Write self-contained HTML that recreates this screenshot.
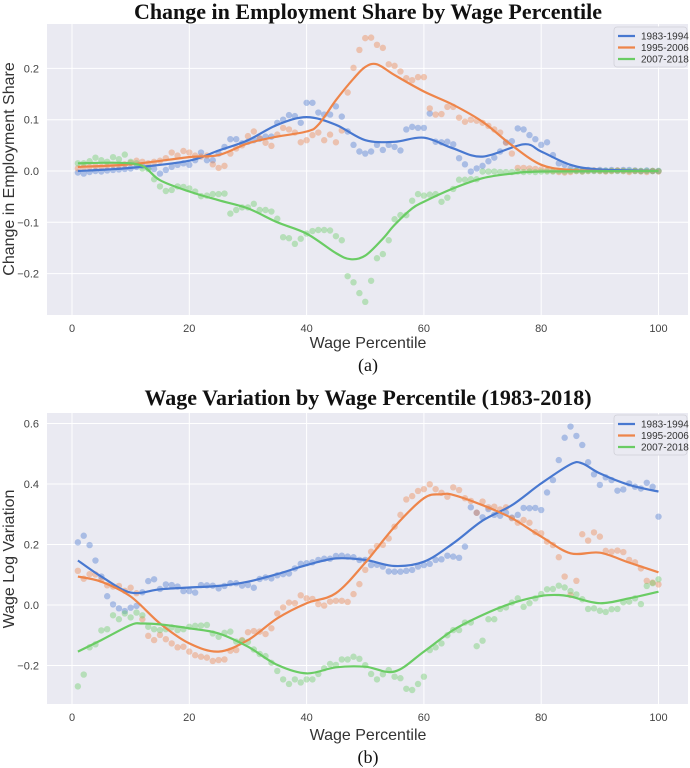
<!DOCTYPE html>
<html><head><meta charset="utf-8">
<style>
html,body{margin:0;padding:0;background:#fff;}
svg{display:block;}
.tick{font-family:"Liberation Sans",sans-serif;font-size:11px;fill:#444;}
.axl{font-family:"Liberation Sans",sans-serif;font-size:16px;fill:#333;}
.ttl{font-family:"Liberation Serif",serif;font-size:22px;font-weight:bold;fill:#111;}
.cap{font-family:"Liberation Serif",serif;font-size:18px;fill:#111;}
.leg{font-family:"Liberation Sans",sans-serif;font-size:10px;fill:#333;}
</style></head>
<body>
<svg id="fig" width="690" height="768" xmlns="http://www.w3.org/2000/svg">
<text class="ttl" x="368" y="19" text-anchor="middle">Change in Employment Share by Wage Percentile</text>
<text class="axl" x="368" y="348" text-anchor="middle">Wage Percentile</text>
<text class="cap" x="368" y="371" text-anchor="middle">(a)</text>
<text class="axl" transform="translate(14,169) rotate(-90)" text-anchor="middle">Change in Employment Share</text>
<text class="ttl" x="368" y="405" text-anchor="middle">Wage Variation by Wage Percentile (1983-2018)</text>
<text class="axl" x="368" y="740" text-anchor="middle">Wage Percentile</text>
<text class="cap" x="368" y="763" text-anchor="middle">(b)</text>
<text class="axl" transform="translate(14,559) rotate(-90)" text-anchor="middle">Wage Log Variation</text>
<g id="pa"></g>
<g id="pb"></g>
</svg>
<script>
// ---- shared
const seriesNames = ["1983-1994","1995-2006","2007-2018"];
const colors = ["#4878d0","#ee854a","#6acc64"];
const xTicks = [0,20,40,60,80,100];
// ---- chart A data
const aYTicks = [-0.2,-0.1,0.0,0.1,0.2];
const aBlueDots = [-0.003,-0.005,-0.002,0,-0.001,0.001,0.002,0.003,0.004,0.005,0.008,0.01,0.006,0.004,-0.005,0.002,0.008,0.012,0.015,0.012,
0.021,0.036,0.021,0.021,0.034,0.047,0.062,0.062,0.054,0.057,0.06,0.063,0.067,0.067,0.094,0.1,0.109,0.107,0.094,0.133,
0.133,0.114,0.11,0.11,0.126,0.106,0.077,0.051,0.038,0.034,0.038,0.051,0.041,0.051,0.047,0.04,0.081,0.086,0.084,0.084,
0.112,0.057,0.056,0.057,0.052,0.025,0.013,-0.001,0.005,0.01,0.019,0.026,0.038,0.056,0.058,0.083,0.081,0.07,0.062,0.051,
0.056,0.031,0.015,0.012,0.005,0.002,0.001,0.002,0.001,0.002,0.001,0.002,0.001,0.002,0.002,0.001,0,0.001,0,0];
const aOrangeDots = [0.005,0.007,0.008,0.01,0.008,0.01,0.012,0.011,0.013,0.016,0.02,0.018,0.015,0.018,0.02,0.025,0.036,0.03,0.039,0.036,
0.03,0.028,0.03,0.013,0.006,0.01,0.034,0.044,0.05,0.068,0.077,0.064,0.055,0.049,0.071,0.084,0.081,0.075,0.056,0.06,
0.07,0.075,0.06,0.071,0.056,0.079,0.153,0.201,0.236,0.259,0.26,0.246,0.24,0.208,0.205,0.194,0.181,0.177,0.183,0.183,
0.122,0.11,0.111,0.125,0.125,0.104,0.096,0.1,0.098,0.094,0.088,0.081,0.075,0.055,0.034,0.006,0.006,0.005,0.004,0.003,
0.001,0,-0.002,-0.003,-0.002,0,-0.001,0,0.001,0,-0.001,0,0.001,0,-0.002,0,-0.001,-0.002,0,-0.001];
const aGreenDots = [0.015,0.015,0.019,0.026,0.021,0.018,0.027,0.023,0.032,0.018,0.015,0.005,0.004,-0.016,-0.03,-0.039,-0.037,-0.03,-0.031,-0.034,
-0.04,-0.049,-0.048,-0.045,-0.045,-0.044,-0.083,-0.076,-0.071,-0.071,-0.064,-0.076,-0.076,-0.079,-0.093,-0.129,-0.131,-0.142,-0.132,-0.122,
-0.117,-0.115,-0.115,-0.116,-0.127,-0.135,-0.205,-0.217,-0.238,-0.255,-0.214,-0.17,-0.162,-0.135,-0.094,-0.086,-0.086,-0.058,-0.045,-0.048,
-0.046,-0.045,-0.06,-0.052,-0.035,-0.017,-0.017,-0.016,-0.016,-0.001,-0.001,-0.001,-0.002,-0.002,-0.002,-0.001,-0.002,-0.001,-0.002,-0.001,
-0.001,-0.001,0,-0.001,0,0,-0.001,0,0,0,0,0,0,0,0,0,0,0,0,0];
const aBlueKnotX = [1,10,20,25,30,35,40,45,50,55,60,65,70,77,80,85,90,100];
const aBlueKnotY = [0,0.006,0.02,0.04,0.06,0.09,0.105,0.09,0.06,0.057,0.065,0.044,0.028,0.052,0.038,0.012,0.003,0];
const aOrangeKnotX = [1,10,20,25,30,35,40,42,45,48,50,52,55,60,65,70,75,80,85,90,100];
const aOrangeKnotY = [0.008,0.013,0.027,0.031,0.054,0.067,0.077,0.09,0.138,0.18,0.203,0.208,0.187,0.155,0.129,0.096,0.05,0.012,0.002,0,0];
const aGreenKnotX = [1,8,12,15,20,25,30,35,40,45,47.5,50,53,55,58,60,65,70,75,80,100];
const aGreenKnotY = [0.015,0.016,0.01,-0.018,-0.04,-0.057,-0.073,-0.1,-0.122,-0.16,-0.172,-0.165,-0.132,-0.105,-0.073,-0.06,-0.034,-0.014,-0.005,-0.001,0];
// ---- chart B data
const bYTicks = [-0.2,0.0,0.2,0.4,0.6];
const bBlueDots = [0.207,0.229,0.198,0.147,0.094,0.029,0.002,-0.011,-0.02,-0.009,-0.003,0.042,0.079,0.085,0.053,0.068,0.066,0.061,0.046,0.046,
0.041,0.066,0.065,0.064,0.055,0.063,0.072,0.072,0.064,0.066,0.057,0.086,0.091,0.088,0.098,0.102,0.104,0.121,0.136,0.138,
0.141,0.149,0.153,0.153,0.162,0.163,0.16,0.158,0.149,0.149,0.132,0.133,0.127,0.111,0.11,0.11,0.113,0.116,0.127,0.132,
0.136,0.149,0.151,0.163,0.16,0.156,0.193,0.323,0.305,0.29,0.317,0.298,0.295,0.305,0.289,0.298,0.321,0.32,0.321,0.314,
0.372,0.413,0.479,0.553,0.59,0.559,0.529,0.472,0.432,0.397,0.422,0.413,0.378,0.382,0.402,0.391,0.385,0.404,0.391,0.292];
const bOrangeDots = [0.113,0.087,0.102,0.101,0.083,0.065,0.061,0.063,0.047,0.057,0.039,-0.047,-0.102,-0.116,-0.099,-0.113,-0.127,-0.14,-0.138,-0.154,
-0.166,-0.171,-0.174,-0.185,-0.182,-0.18,-0.151,-0.149,-0.116,-0.09,-0.086,-0.088,-0.096,-0.077,-0.028,-0.008,0.008,0.006,0.032,0.022,
0.02,0.003,-0.002,0.011,0.014,0.014,0.01,0.036,0.069,0.116,0.176,0.195,0.199,0.22,0.259,0.298,0.349,0.36,0.377,0.383,
0.399,0.383,0.371,0.358,0.389,0.38,0.353,0.344,0.305,0.342,0.323,0.325,0.316,0.323,0.287,0.272,0.281,0.272,0.241,0.237,
0.209,0.198,0.158,0.094,0.033,0.08,0.234,0.213,0.24,0.226,0.179,0.176,0.18,0.175,0.149,0.141,0.121,0.08,0.074,0.068];
const bGreenDots = [-0.269,-0.23,-0.14,-0.13,-0.084,-0.08,-0.034,-0.047,-0.028,-0.041,-0.025,-0.034,-0.072,-0.08,-0.083,-0.08,-0.074,-0.083,-0.08,-0.072,
-0.069,-0.068,-0.066,-0.094,-0.105,-0.092,-0.088,-0.121,-0.118,-0.122,-0.147,-0.162,-0.169,-0.191,-0.218,-0.246,-0.261,-0.246,-0.256,-0.246,
-0.246,-0.228,-0.209,-0.195,-0.198,-0.18,-0.18,-0.171,-0.178,-0.199,-0.228,-0.246,-0.229,-0.215,-0.237,-0.242,-0.277,-0.281,-0.261,-0.237,
-0.149,-0.14,-0.127,-0.1,-0.083,-0.083,-0.058,-0.058,-0.136,-0.118,-0.047,-0.047,-0.013,-0.008,0.008,0.022,-0.006,0.006,0.022,0.036,
0.052,0.053,0.064,0.058,0.046,0.035,0.019,-0.013,-0.011,-0.019,-0.023,-0.014,-0.013,0.009,0.011,0.022,0.003,0.063,0.072,0.085];
const bBlueKnotX = [1,5,10,15,20,25,30,35,40,45,50,55,60,65,70,75,80,85,87,90,95,100];
const bBlueKnotY = [0.147,0.094,0.041,0.052,0.058,0.063,0.077,0.102,0.132,0.154,0.149,0.129,0.143,0.204,0.279,0.33,0.402,0.465,0.468,0.435,0.397,0.375];
const bOrangeKnotX = [1,5,10,15,20,25,30,35,40,45,50,55,60,63,65,70,75,80,85,90,95,100];
const bOrangeKnotY = [0.094,0.077,0.028,-0.061,-0.127,-0.154,-0.116,-0.044,0.006,0.039,0.14,0.259,0.353,0.366,0.364,0.33,0.287,0.226,0.171,0.173,0.14,0.108];
const bGreenKnotX = [1,5,10,12,15,20,25,30,35,40,45,50,55,60,65,70,75,80,83,85,90,95,100];
const bGreenKnotY = [-0.154,-0.116,-0.066,-0.061,-0.064,-0.077,-0.094,-0.138,-0.198,-0.226,-0.206,-0.204,-0.22,-0.154,-0.083,-0.033,0.006,0.03,0.033,0.028,0.006,0.022,0.044];

const NS = "http://www.w3.org/2000/svg";
function mk(tag, attrs, parent){const e=document.createElementNS(NS,tag);for(const k in attrs)e.setAttribute(k,attrs[k]);parent.appendChild(e);return e;}

function smoothPath(px,py){
  let d="M"+px[0].toFixed(1)+","+py[0].toFixed(1);
  for(let i=0;i<px.length-1;i++){
    const x0=px[Math.max(i-1,0)],y0=py[Math.max(i-1,0)];
    const x1=px[i],y1=py[i],x2=px[i+1],y2=py[i+1];
    const x3=px[Math.min(i+2,px.length-1)],y3=py[Math.min(i+2,px.length-1)];
    const c1x=x1+(x2-x0)/6,c1y=y1+(y2-y0)/6,c2x=x2-(x3-x1)/6,c2y=y2-(y3-y1)/6;
    d+=" C"+c1x.toFixed(1)+","+c1y.toFixed(1)+" "+c2x.toFixed(1)+","+c2y.toFixed(1)+" "+x2.toFixed(1)+","+y2.toFixed(1);
  }
  return d;
}

function drawPanel(g, top, bottom, y0px, pxPerUnit, yTicks, dots, knotsX, knotsY, legY, prefix){
  const L=47,R=688;
  const xs=p=>72+5.865*p;
  const ys=v=>y0px-pxPerUnit*v;
  const bg=mk("rect",{x:L,y:top,width:R-L,height:bottom-top,fill:"#eaeaf2"},g);
  
  
  xTicks.forEach(t=>{
    const ln=mk("line",{x1:xs(t),x2:xs(t),y1:top,y2:bottom,stroke:"#fff","stroke-width":1},g);
    
    
    const tx=mk("text",{x:xs(t),y:bottom+17,"text-anchor":"middle",class:"tick"},g);
    tx.textContent=t;
    
    
  });
  yTicks.forEach(t=>{
    const ln=mk("line",{x1:L,x2:R,y1:ys(t),y2:ys(t),stroke:"#fff","stroke-width":1},g);
    
    
    const tx=mk("text",{x:39,y:ys(t)+4,"text-anchor":"end",class:"tick"},g);
    tx.textContent=(t<0?"\u2212":"")+Math.abs(t).toFixed(1);
    
    
  });
  for(let s=0;s<3;s++){
    const sg=mk("g",{},g);
    
    
    dots[s].forEach((v,i)=>{
      const c=mk("circle",{cx:xs(i+1),cy:ys(v),r:3.2,fill:colors[s],"fill-opacity":0.4},sg);
      
      
    });
  }
  for(let s=0;s<3;s++){
    const p=mk("path",{d:smoothPath(knotsX[s].map(xs),knotsY[s].map(ys)),fill:"none",stroke:colors[s],"stroke-width":2.2},g);
    
    
  }
  const lg=mk("g",{},g);
  
  
  mk("rect",{x:614,y:legY,width:73,height:40,rx:3,fill:"#eaeaf2",stroke:"#d0d0d8","stroke-width":0.8},lg);
  for(let s=0;s<3;s++){
    const yy=legY+9+s*11.5;
    const e=mk("g",{},lg);
    
    
    mk("line",{x1:618,x2:635,y1:yy,y2:yy,stroke:colors[s],"stroke-width":2.2},e);
    const t=mk("text",{x:641,y:yy+3.5,class:"leg"},e);
    t.textContent=seriesNames[s];
  }
}

drawPanel(document.getElementById("pa"),24,315,171,513,aYTicks,
  [aBlueDots,aOrangeDots,aGreenDots],[aBlueKnotX,aOrangeKnotX,aGreenKnotX],[aBlueKnotY,aOrangeKnotY,aGreenKnotY],27,"chart-a");
drawPanel(document.getElementById("pb"),413,704,605,302.5,bYTicks,
  [bBlueDots,bOrangeDots,bGreenDots],[bBlueKnotX,bOrangeKnotX,bGreenKnotX],[bBlueKnotY,bOrangeKnotY,bGreenKnotY],415,"chart-b");
</script>
</body></html>
